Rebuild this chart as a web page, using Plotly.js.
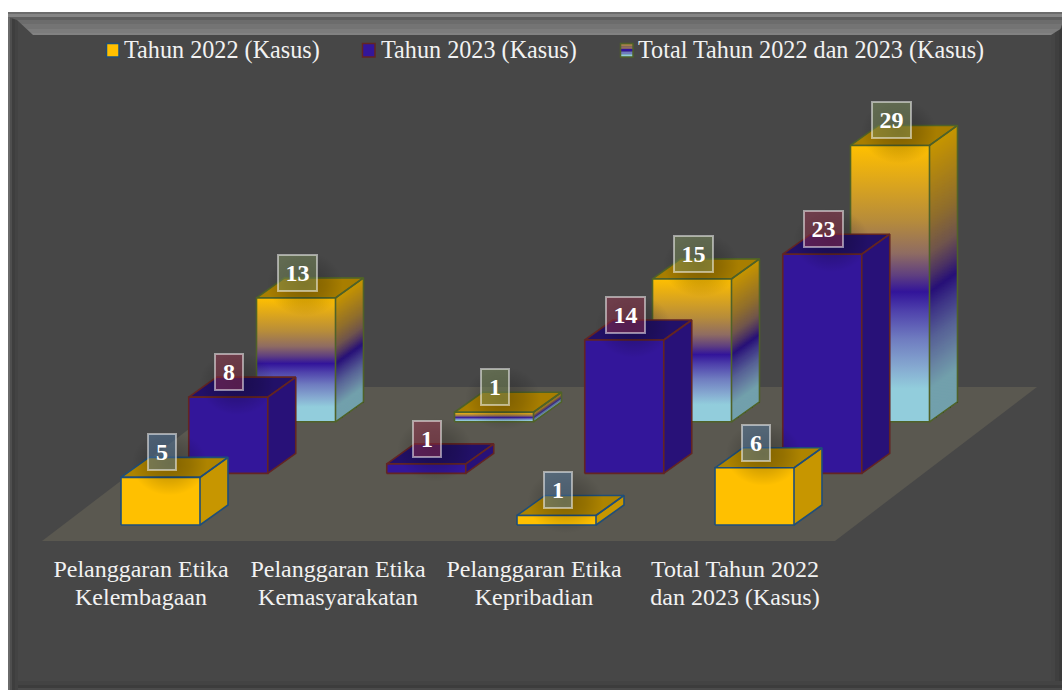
<!DOCTYPE html>
<html><head><meta charset="utf-8">
<script src="https://cdn.plot.ly/plotly-3.0.1.min.js"></script>
<style>html,body{margin:0;padding:0;background:#fff}#c{width:1062px;height:690px}</style>
</head><body><div id="c"></div>
<script>
const categories = ["Pelanggaran Etika<br>Kelembagaan","Pelanggaran Etika<br>Kemasyarakatan","Pelanggaran Etika<br>Kepribadian","Total Tahun 2022<br>dan 2023 (Kasus)"];
const seriesNames = ["Tahun 2022 (Kasus)","Tahun 2023 (Kasus)","Total Tahun 2022 dan 2023 (Kasus)"];
const values2022 = [5,null,1,6];
const values2023 = [8,1,14,23];
const valuesTotal = [13,1,15,29];

const FONT = '"Liberation Serif","Times New Roman",serif';
const W=1062,H=690,PLOT_B=541,UNIT_PX=9.53,CAT_PX=198,CAT0=141,BASE0=525;
const barW=79/CAT_PX, leftOff=-20/CAT_PX, rowDX=67.75/CAT_PX, rowDY=51.6/UNIT_PX, depX=28/CAT_PX, depY=20/UNIT_PX;
const px=p=>p/W, py=p=>(PLOT_B-p)/PLOT_B;

const goldScale=[[0,'#FFC000'],[0.06,'#F0B40C'],[0.27,'#B78C3A'],[0.39,'#8F6C62'],[0.47,'#5F3F80'],[0.53,'#32149A'],[0.6,'#4F42AC'],[0.7,'#6F7CC0'],[0.8,'#85A8D0'],[0.88,'#92CDDC'],[1,'#92CDDC']];
const rows=[
 {vals:values2022,edge:'#1F4E79',scale:[[0,'#FFC000'],[1,'#FFC000']],top:'#AE8400',side:.78,lab:'rgba(84,127,171,.45)'},
 {vals:values2023,edge:'#632523',scale:[[0,'#33169A'],[1,'#33169A']],top:'#221068',side:.78,lab:'rgba(158,51,80,.45)'},
 {vals:valuesTotal,edge:'#4F6228',scale:goldScale,top:'#A87E00',side:.78,lab:'rgba(131,151,96,.45)'}
];
function hex(c){return [1,3,5].map(i=>parseInt(c.substr(i,2),16));}
function colorAt(scale,f,m){
  let i=0; while(i<scale.length-2&&f>scale[i+1][0])i++;
  const a=scale[i],b=scale[i+1],t=Math.min(1,Math.max(0,(f-a[0])/(b[0]-a[0]||1)));
  const A=hex(a[1]),B=hex(b[1]);
  return 'rgb('+A.map((v,k)=>Math.round((v+(B[k]-v)*t)*m)).join(',')+')';
}
const traces=[];
const poly=(x,y,extra)=>Object.assign({type:'scatter',mode:'lines',x,y,fill:'toself',hoverinfo:'skip',showlegend:false,line:{width:0}},extra);

// floor
const fy0=(BASE0-PLOT_B)/UNIT_PX, fy1=(BASE0-387)/UNIT_PX, fdx=202/CAT_PX, fx0=(42-CAT0)/CAT_PX, fx1=(835-CAT0)/CAT_PX;
traces.push(poly([fx0,fx1,fx1+fdx,fx0+fdx,fx0],[fy0,fy0,fy1,fy1,fy0],{fillcolor:'#5A5850',name:'floor'}));

const annotations=[];
[2,1,0].forEach(r=>{
  const row=rows[r];
  row.vals.forEach((v,c)=>{
    if(v===null)return;
    const x0=c+leftOff+r*rowDX, x1=x0+barW, y0=r*rowDY, y1=y0+v;
    // side face: skewed bands painted top to bottom, each reaching the foot of the face
    const n=row.scale.length>2?Math.max(4,Math.round(v*UNIT_PX/1.5)):1;
    for(let k=0;k<n;k++){
      const fa=k/n,ya=y1-fa*v,col=colorAt(row.scale,(k+.5)/n,row.side);
      traces.push(poly([x1,x1+depX,x1+depX,x1,x1],[ya,ya+depY,y0+depY,y0,ya],{fillcolor:col}));
    }
    // top
    traces.push(poly([x0,x1,x1+depX,x0+depX,x0],[y1,y1,y1+depY,y1+depY,y1],{fillcolor:row.top,line:{width:1.6,color:row.edge}}));
    // side outline
    traces.push({type:'scatter',mode:'lines',x:[x1,x1+depX,x1+depX,x1],y:[y1,y1+depY,y0+depY,y0],hoverinfo:'skip',showlegend:false,line:{width:1.6,color:row.edge}});
    // front
    const stops=row.scale;
    traces.push(poly([x0,x1,x1,x0,x0],[y0,y0,y1,y1,y0],{name:seriesNames[r],line:{width:1.6,color:row.edge},
      fillgradient:{type:'vertical',colorscale:stops.map(s=>[1-s[0],s[1]]).reverse()}}));
    // soft shadow of the value label
    const sx=x0+barW/2+9/CAT_PX, sy=y1+(25-11)/UNIT_PX, rx=38/CAT_PX, ry=32/UNIT_PX;
    traces.push(poly([sx-rx,sx+rx,sx+rx,sx-rx,sx-rx],[sy-ry,sy-ry,sy+ry,sy+ry,sy-ry],{
      fillgradient:{type:'radial',colorscale:[[0,'rgba(0,0,0,0.26)'],[0.55,'rgba(0,0,0,0.14)'],[1,'rgba(0,0,0,0)']]}}));
    const wide=String(v).length>1;
    annotations.push({xref:'x',yref:'y',x:x0+barW/2+1/CAT_PX,y:y1,yshift:25,text:'<b>'+v+'</b>',showarrow:false,
      xanchor:'center',yanchor:'middle',width:wide?37:26,height:34,borderpad:0,borderwidth:2,
      bordercolor:'rgba(255,255,255,.5)',bgcolor:row.lab,font:{family:FONT,size:24,color:'#fff'}});
  });
});

// legend (drawn by hand: swatch + text)
const legendSw=[106,362,620], legendTx=[122,379,636];
const shapes=[];
const rect=(x0,y0,x1,y1,fill,line)=>({type:'rect',xref:'paper',yref:'paper',x0:px(x0),x1:px(x1),y0:py(y0),y1:py(y1),fillcolor:fill,layer:'below',line:line||{width:0}});
const path=(pts,fill)=>({type:'path',xref:'paper',yref:'paper',path:'M'+pts.map(p=>px(p[0])+','+py(p[1])).join('L')+'Z',fillcolor:fill,layer:'below',line:{width:0}});
shapes.push(rect(8,12,W,H,'#474747'));
// left band
[[8,10,'#6A6A6A'],[10,12,'#4E4E4E'],[12,15,'#3E3E3E'],[15,18,'#434343']].forEach(s=>shapes.push(rect(s[0],12,s[1],H,s[2])));
// right band
[[1051,1055,'#454545'],[1055,1059,'#3F3F3F'],[1059,1062,'#3A3A3A']].forEach(s=>shapes.push(rect(s[0],28,s[1],H,s[2])));
// bottom band
[[681,685,'#434343'],[685,688,'#3C3C3C'],[688,690,'#4A4A4A']].forEach(s=>shapes.push(rect(18,s[0],1062,s[1],s[2])));
// top band
[[12,14,'#6C6C6C'],[14,17,'#858585'],[17,20,'#5F5F5F'],[20,24,'#6C6C6C'],[24,29,'#747474'],[29,33,'#7C7C7C'],[33,35,'#828282']].forEach(s=>{
  const xl=y=>y<20?8:17+(y-20)*16/15, xr=y=>y<28?1062:1062-(y-28)*11/7;
  shapes.push(path([[xl(s[0]),s[0]],[xr(s[0]),s[0]],[xr(s[1]),s[1]],[xl(s[1]),s[1]]],s[2]));
});
// swatches
shapes.push(rect(legendSw[0]+.5,43.5,legendSw[0]+13,57,rows[0].scale[0][1],{width:1.5,color:rows[0].edge}));
shapes.push(rect(legendSw[1]+.5,43.5,legendSw[1]+13,57,rows[1].scale[0][1],{width:1.5,color:rows[1].edge}));
const sw=legendSw[2];
['#A5804A','#8F6C62','#32149A','#6F7CC0','#92CDDC'].forEach((s,i)=>shapes.push(rect(sw+.5,43.5+i*2.7,sw+13,46.2+i*2.7,s)));
shapes.push(rect(sw+.5,43.5,sw+13,57,'rgba(0,0,0,0)',{width:1.5,color:rows[2].edge}));
seriesNames.forEach((t,i)=>annotations.push({xref:'paper',yref:'paper',x:px(legendTx[i]),y:py(50),xanchor:'left',yanchor:'middle',text:t,showarrow:false,font:{family:FONT,size:24.2,color:'#F2F2F2'}}));

const layout={width:W,height:H,margin:{l:0,r:0,t:0,b:H-PLOT_B,pad:0},paper_bgcolor:'#fff',plot_bgcolor:'rgba(0,0,0,0)',showlegend:false,hovermode:false,
 xaxis:{range:[-CAT0/CAT_PX,(W-CAT0)/CAT_PX],tickmode:'array',tickvals:[0,0.995,1.985,3],ticktext:categories,ticks:'',ticklen:0,ticklabelstandoff:11,tickangle:0,showgrid:false,zeroline:false,showline:false,fixedrange:true,tickfont:{family:FONT,size:24,color:'#F2F2F2'}},
 yaxis:{range:[(BASE0-PLOT_B)/UNIT_PX,BASE0/UNIT_PX],visible:false,showgrid:false,zeroline:false,fixedrange:true},
 shapes,annotations,font:{family:FONT}};
Plotly.newPlot('c',traces,layout,{displayModeBar:false,responsive:false}).then(()=>{
  // tighter line spacing of the two-line category labels: only the second line carries a shift
  document.querySelectorAll('.xtick tspan.line').forEach(t=>{ if(parseFloat(t.getAttribute('dy'))>0) t.setAttribute('dy','28px'); });
});
</script></body></html>
